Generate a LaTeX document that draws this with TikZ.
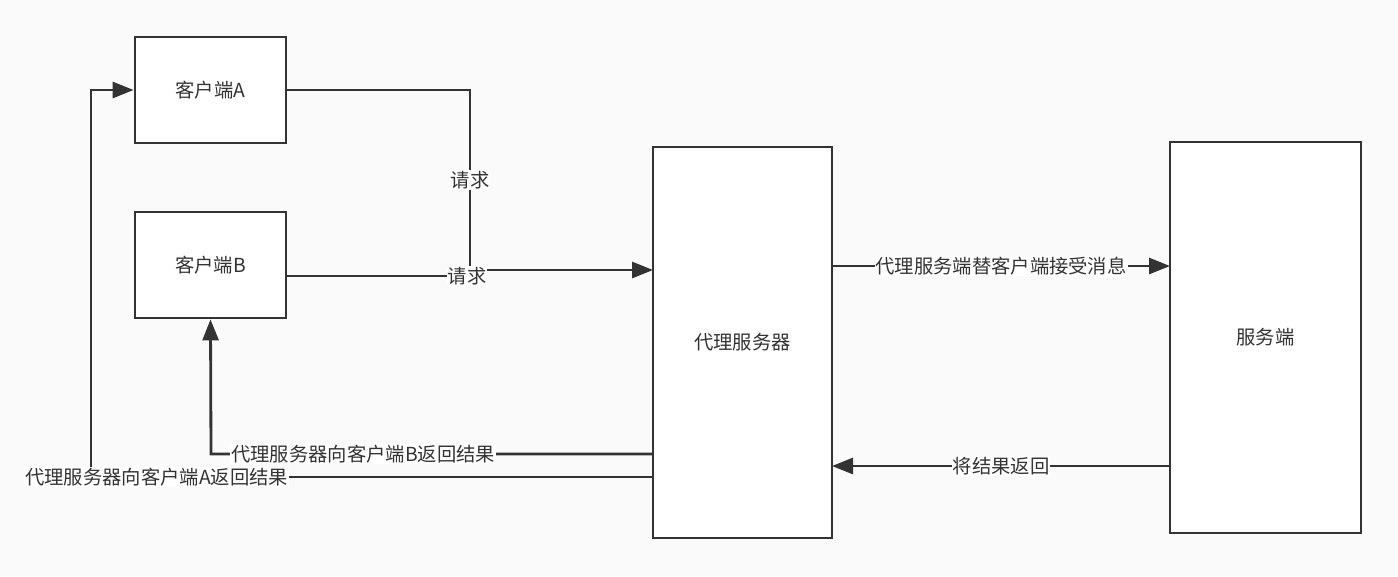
\documentclass[tikz,border=0pt]{standalone}
\usepackage{fontspec}
\setmainfont{Noto Sans CJK SC}
\usetikzlibrary{arrows.meta}
\definecolor{bgGray}{HTML}{FAFAFA}
\definecolor{inkGray}{HTML}{333333}

\begin{document}
\begin{tikzpicture}[
    x=0.02cm, y=-0.02cm, every node/.style={font=\fontsize{11}{13}\selectfont, text=inkGray},
    box/.style={rectangle, draw=inkGray, line width=1.6pt, fill=white, inner sep=0pt},
    link/.style={draw=inkGray, line width=1.6pt},
    tip/.style={-{Triangle[length=4.2mm, width=3.2mm]}},
    lbl/.style={fill=white, inner sep=0.5pt}
]
    \fill[bgGray] (0,0) rectangle (1398,576);
    \useasboundingbox (0,0) rectangle (1398,576);

    \node[box, minimum width=3.02cm, minimum height=2.12cm] (cliA) at (210.5,90) {客户端A};
    \node[box, minimum width=3.02cm, minimum height=2.12cm] (cliB) at (210.5,265) {客户端B};
    \node[box, minimum width=3.58cm, minimum height=7.82cm] (proxy) at (742.5,342.5) {代理服务器};
    \node[box, minimum width=3.82cm, minimum height=7.82cm] (server) at (1265.5,337.5) {服务端};

    % end points on the long boxes
    \coordinate (pIn) at (653,270);
    \coordinate (bOut) at (286,276);
    \coordinate (pFwd) at (832,266);
    \coordinate (sIn) at (1170,266);
    \coordinate (sOut) at (1170,466);
    \coordinate (pBack) at (832,466);
    \coordinate (pToB) at (653,454);
    \coordinate (pToA) at (653,477);

    \draw[link, tip] (cliA.east) -- (470,90) -- node[lbl] {请求} (470,270) -- (pIn);
    \draw[link] (bOut) -- node[lbl, pos=0.985] {请求} (470,276) -- (470,270);
    \draw[link, tip] (pFwd) -- node[lbl] {代理服务端替客户端接受消息} (sIn);
    \draw[link, tip] (sOut) -- node[lbl] {将结果返回} (pBack);
    \draw[link, tip] (pToB) -- node[lbl, pos=0.656] {代理服务器向客户端B返回结果} (211,454) -- (cliB.south);
    \draw[link, tip] (pToA) -- node[lbl, pos=0.883] {代理服务器向客户端A返回结果} (91,477) -- (91,90) -- (cliA.west);
\end{tikzpicture}
\end{document}
